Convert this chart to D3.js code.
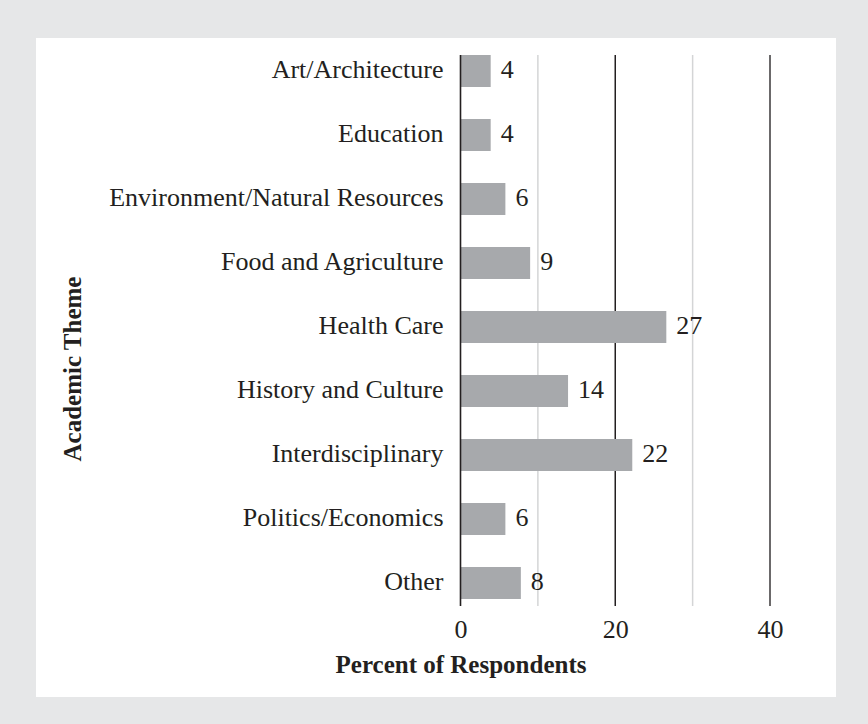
<!DOCTYPE html>
<html>
<head>
<meta charset="utf-8">
<script src="https://cdn.jsdelivr.net/npm/d3@7"></script>
<style>
  html, body { margin: 0; padding: 0; background: #e6e7e8; }
  svg { display: block; }
</style>
</head>
<body>
<script>
const categories = ["Art/Architecture", "Education", "Environment/Natural Resources", "Food and Agriculture", "Health Care", "History and Culture", "Interdisciplinary", "Politics/Economics", "Other"];
const values = [3.9, 3.9, 5.8, 9.0, 26.6, 13.9, 22.2, 5.8, 7.8];
const valueLabels = ["4", "4", "6", "9", "27", "14", "22", "6", "8"];
const tickValues = [0, 20, 40];
const gridValues = [10, 20, 30, 40];
const xTitle = "Percent of Respondents";
const yTitle = "Academic Theme";

const W = 868, H = 724;
const svg = d3.select("body").append("svg").attr("width", W).attr("height", H);

svg.append("rect").attr("x", 0).attr("y", 0).attr("width", W).attr("height", H).attr("fill", "#e6e7e8");
svg.append("rect").attr("x", 36).attr("y", 38).attr("width", 800).attr("height", 659).attr("fill", "#ffffff");

const x = d3.scaleLinear().domain([0, 40]).range([460.5, 770]);
const y = d3.scaleBand().domain(categories).range([39, 615]).paddingInner(0.5).paddingOuter(0.25);

const gridTop = y(categories[0]);
const gridBottom = y(categories[categories.length - 1]) + y.bandwidth() + 7;

const font = "'Liberation Serif', 'Times New Roman', serif";
const ink = "#231f20";

// gridlines
svg.append("g").selectAll("line").data(gridValues).join("line")
  .attr("x1", d => x(d)).attr("x2", d => x(d))
  .attr("y1", gridTop).attr("y2", gridBottom)
  .attr("stroke", d => d % 20 === 0 ? (d === 40 ? "#3a3738" : ink) : "#d4d5d6")
  .attr("stroke-width", 1.5);

// bars
svg.append("g").selectAll("rect").data(categories).join("rect")
  .attr("x", x(0))
  .attr("y", d => y(d))
  .attr("width", (d, i) => x(values[i]) - x(0))
  .attr("height", y.bandwidth())
  .attr("fill", "#a7a9ac");

// zero axis line
svg.append("line")
  .attr("x1", x(0)).attr("x2", x(0))
  .attr("y1", gridTop).attr("y2", gridBottom)
  .attr("stroke", ink).attr("stroke-width", 1.6);

// value labels
svg.append("g").selectAll("text").data(categories).join("text")
  .attr("x", (d, i) => x(values[i]) + 10)
  .attr("y", d => y(d) + y.bandwidth() / 2)
  .attr("dy", "0.27em")
  .attr("font-family", font).attr("font-size", 26).attr("fill", ink)
  .text((d, i) => valueLabels[i]);

// category axis labels
const yAxis = d3.axisLeft(y).tickSize(0).tickPadding(17);
const gy = svg.append("g").attr("transform", `translate(${x(0)},0)`).call(yAxis);
gy.select(".domain").remove();
gy.selectAll("text")
  .attr("font-family", font).attr("font-size", 26).attr("fill", ink)
  .attr("dy", "0.27em");

// x axis ticks
const xAxis = d3.axisBottom(x).tickValues(tickValues).tickSize(0).tickPadding(14).tickFormat(d3.format("d"));
const gx = svg.append("g").attr("transform", `translate(0,${gridBottom})`).call(xAxis);
gx.select(".domain").remove();
gx.selectAll("text")
  .attr("font-family", font).attr("font-size", 26).attr("fill", ink);

// axis titles
svg.append("text")
  .attr("x", 461).attr("y", 673)
  .attr("text-anchor", "middle")
  .attr("font-family", font).attr("font-weight", "bold").attr("font-size", 25).attr("fill", ink)
  .text(xTitle);

svg.append("text")
  .attr("transform", "translate(81,369) rotate(-90)")
  .attr("text-anchor", "middle")
  .attr("font-family", font).attr("font-weight", "bold").attr("font-size", 25).attr("fill", ink)
  .text(yTitle);
</script>
</body>
</html>
